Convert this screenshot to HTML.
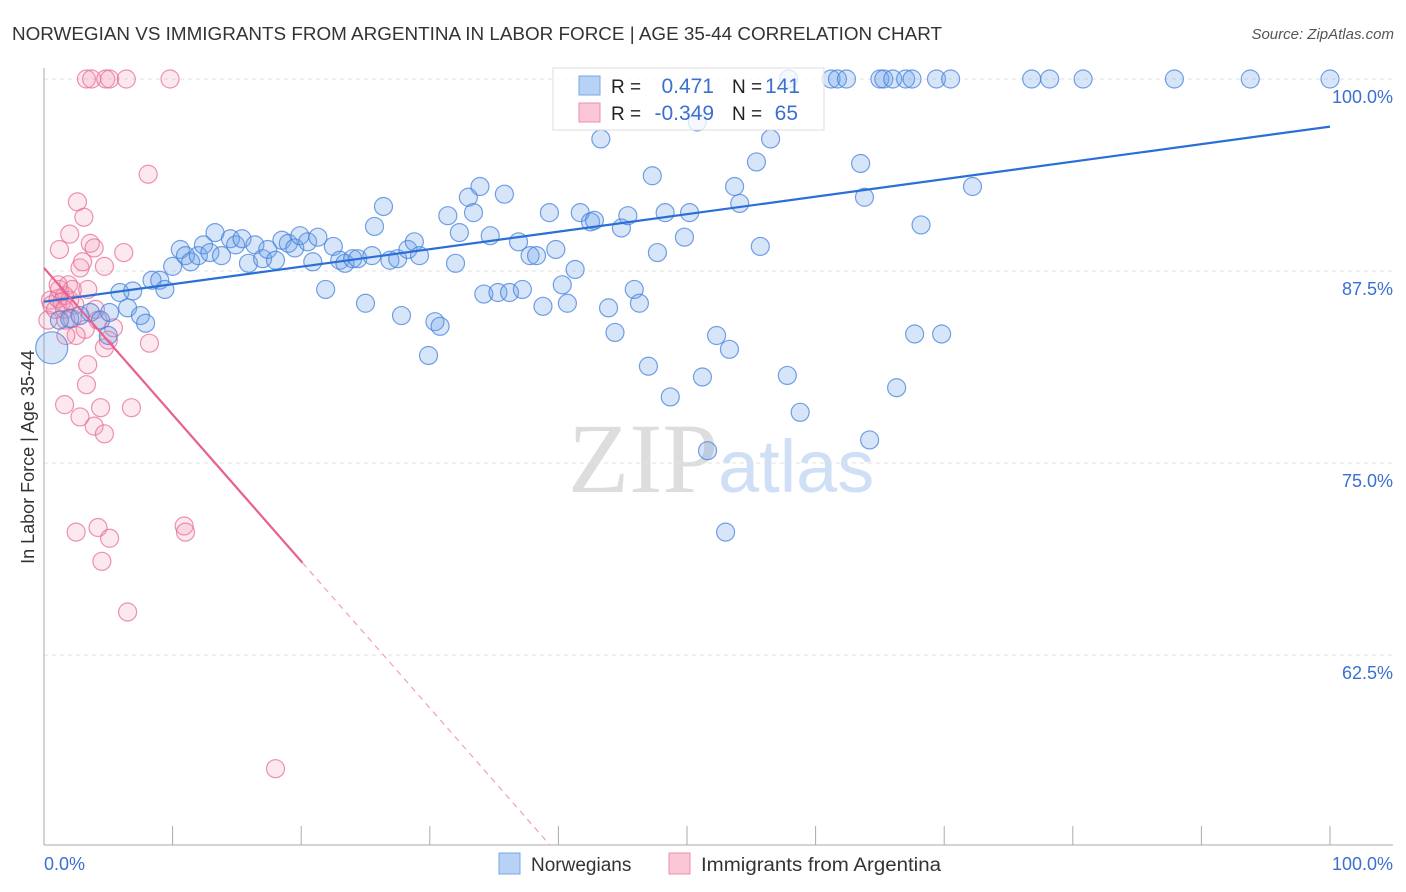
<!DOCTYPE html>
<html><head><meta charset="utf-8"><style>
body{margin:0;background:#fff;font-family:"Liberation Sans",sans-serif;}
svg{display:block}
</style></head><body>
<svg id="chart" width="1406" height="892" xmlns="http://www.w3.org/2000/svg">
<text x="12" y="40" font-size="18" fill="#333" textLength="930" lengthAdjust="spacingAndGlyphs">NORWEGIAN VS IMMIGRANTS FROM ARGENTINA IN LABOR FORCE | AGE 35-44 CORRELATION CHART</text>
<text x="1394" y="39" font-size="15" fill="#555" font-style="italic" text-anchor="end">Source: ZipAtlas.com</text>
<text x="718" y="492" font-size="100" fill="#ddd" text-anchor="end" font-family="Liberation Serif,serif">ZIP</text>
<text x="718" y="492" font-size="74" fill="#cfdff5">atlas</text>
<g id="grid"></g>
<g id="axes"></g>
<g id="pink"></g>
<g id="blue"></g>
<g id="trends"></g>
<text transform="translate(34,457) rotate(-90)" font-size="18" fill="#333" text-anchor="middle">In Labor Force | Age 35-44</text>
<g>
<rect x="553" y="68" width="271" height="62" fill="rgba(255,255,255,0.75)" stroke="#ddd"/>
<rect x="579" y="76" width="21" height="19" fill="#b8d2f5" stroke="#7aa6e6"/>
<rect x="579" y="103" width="21" height="19" fill="#fbc6d5" stroke="#ec8fab"/>
<text x="611" y="93" font-size="19" fill="#222">R =</text>
<text x="714" y="93" font-size="21" fill="#3b6fd0" text-anchor="end">0.471</text>
<text x="732" y="93" font-size="19" fill="#222">N =</text>
<text x="800" y="93" font-size="21" fill="#3b6fd0" text-anchor="end">141</text>
<text x="611" y="120" font-size="19" fill="#222">R =</text>
<text x="714" y="120" font-size="21" fill="#3b6fd0" text-anchor="end">-0.349</text>
<text x="732" y="120" font-size="19" fill="#222">N =</text>
<text x="798" y="120" font-size="21" fill="#3b6fd0" text-anchor="end">65</text>
</g>
<g>
<rect x="499" y="853" width="21" height="21" fill="#b8d2f5" stroke="#7aa6e6"/>
<text x="531" y="871" font-size="19" fill="#333">Norwegians</text>
<rect x="669" y="853" width="21" height="21" fill="#fbc6d5" stroke="#ec8fab"/>
<text x="701" y="871" font-size="19" fill="#333" textLength="240" lengthAdjust="spacingAndGlyphs">Immigrants from Argentina</text>
</g>
</svg>
<script>
const yTicks=[100,87.5,75,62.5];
const yTickLabels=["100.0%","87.5%","75.0%","62.5%"];
const xLabels=["0.0%","100.0%"];
const blueX=[0.6,1.2,2.0,2.8,3.6,4.4,5.1,5.0,5.9,6.5,6.9,7.5,7.9,8.4,9.0,9.4,10.0,10.6,11.0,11.4,12.0,12.4,12.9,13.3,13.8,14.5,14.9,15.4,15.9,16.4,17.0,17.4,18.0,18.5,19.0,19.5,19.9,20.5,20.9,21.3,21.9,22.5,23.0,23.4,24.0,24.4,25.0,25.5,25.7,26.4,26.9,27.5,27.8,28.3,28.8,29.2,29.9,30.4,30.8,31.4,32.0,32.3,33.0,33.4,33.9,34.2,34.7,35.3,35.8,36.2,36.9,37.2,37.8,38.3,38.8,39.3,39.8,40.3,40.7,41.3,41.7,42.5,42.8,43.3,43.9,44.4,44.9,45.4,45.9,46.3,47.0,47.3,47.7,48.3,48.7,49.8,50.2,50.8,51.2,51.6,52.3,53.0,53.3,53.7,54.1,55.4,55.7,56.5,57.8,58.8,63.5,63.8,64.2,66.3,67.7,68.2,69.8,72.2,57.9,61.2,61.7,62.4,65.0,65.3,66.0,67.0,67.5,69.4,70.5,76.8,78.2,80.8,87.9,93.8,100];
const blueY=[82.5,84.3,84.4,84.6,84.8,84.3,84.8,83.3,86.1,85.1,86.2,84.6,84.1,86.9,86.9,86.3,87.8,88.9,88.5,88.1,88.5,89.2,88.7,90.0,88.5,89.6,89.2,89.6,88.0,89.2,88.3,88.9,88.2,89.5,89.3,89.0,89.8,89.4,88.1,89.7,86.3,89.1,88.2,88.0,88.3,88.3,85.4,88.5,90.4,91.7,88.2,88.3,84.6,88.9,89.4,88.5,82.0,84.2,83.9,91.1,88.0,90.0,92.3,91.3,93.0,86.0,89.8,86.1,92.5,86.1,89.4,86.3,88.5,88.5,85.2,91.3,88.9,86.6,85.4,87.6,91.3,90.7,90.8,96.1,85.1,83.5,90.3,91.1,86.3,85.4,81.3,93.7,88.7,91.3,79.3,89.7,91.3,97.2,80.6,75.8,83.3,70.5,82.4,93.0,91.9,94.6,89.1,96.1,80.7,78.3,94.5,92.3,76.5,79.9,83.4,90.5,83.4,93.0,100,100,100,100,100,100,100,100,100,100,100,100,100,100,100,100,100];
const pinkX=[0.3,0.5,0.6,0.9,1.1,1.2,1.4,1.6,1.9,2.0,2.2,2.4,1.1,1.6,1.7,2.2,1.2,2.0,2.6,3.1,3.6,3.9,2.8,3.0,4.7,3.4,4.0,3.2,2.5,1.7,6.2,4.2,4.7,5.0,5.4,8.2,3.4,3.3,1.6,2.8,3.9,4.4,4.7,6.8,2.5,4.2,5.1,4.5,6.5,10.9,11.0,8.1,18.0,3.3,3.7,4.8,5.1,6.4,9.8];
const pinkY=[84.3,85.6,85.3,85.0,85.7,86.3,85.5,85.9,86.6,85.6,86.3,85.3,86.6,85.0,84.3,84.4,88.9,89.9,92.0,91.0,89.3,89.0,87.7,88.1,87.8,86.3,85.0,83.7,83.3,83.3,88.7,84.3,82.5,83.0,83.8,82.8,81.4,80.1,78.8,78.0,77.4,78.6,76.9,78.6,70.5,70.8,70.1,68.6,65.3,70.9,70.5,93.8,55.1,100,100,100,100,100,100];
const blueTrend=[85.5,96.9];
const pinkTrend=[87.7,-0.955];
const NS="http://www.w3.org/2000/svg";
const X0=44,X1=1330,Y100=79,PXPER=15.36,YBOT=845;
const sx=v=>X0+(X1-X0)*v/100;
const sy=v=>Y100+(100-v)*PXPER;
function mk(t,a,p){const e=document.createElementNS(NS,t);for(const k in a)e.setAttribute(k,a[k]);p.appendChild(e);return e;}
const grid=document.getElementById('grid'),axes=document.getElementById('axes');
yTicks.forEach((t,i)=>{
 const l=mk('line',{x1:X0,x2:1393,y1:sy(t),y2:sy(t),stroke:'#e2e2e2','stroke-dasharray':'4,4'},grid);
 
 
 const tx=mk('text',{x:1393,y:sy(t)+24,'font-size':18,fill:'#3b6fd0','text-anchor':'end'},axes);
 tx.textContent=yTickLabels[i];
 
 
});
let a=mk('line',{x1:X0,x2:X0,y1:68,y2:YBOT,stroke:'#aaa'},axes);


a=mk('line',{x1:X0,x2:1393,y1:YBOT,y2:YBOT,stroke:'#aaa'},axes);


for(let i=1;i<=10;i++){
 const tk=mk('line',{x1:sx(i*10),x2:sx(i*10),y1:826,y2:YBOT,stroke:'#aaa'},axes);
 
 
}
[[0,'start',X0],[1,'end',1393]].forEach(([i,anc,x])=>{
 const tx=mk('text',{x:x,y:870,'font-size':18,fill:'#3b6fd0','text-anchor':anc},axes);
 tx.textContent=xLabels[i];
 
 
});
const pg=document.getElementById('pink');
pinkX.forEach((x,i)=>{
 const c=mk('circle',{cx:sx(x),cy:sy(pinkY[i]),r:9,fill:'rgba(243,150,180,0.22)',stroke:'rgba(232,110,150,0.75)','stroke-width':1.2},pg);
 
 
});
const bg=document.getElementById('blue');
blueX.forEach((x,i)=>{
 const c=mk('circle',{cx:sx(x),cy:sy(blueY[i]),r:i===0?16:9,fill:'rgba(110,160,235,0.28)',stroke:'rgba(70,130,220,0.75)','stroke-width':1.2},bg);
 
 
});
const tg=document.getElementById('trends');
let l=mk('line',{x1:sx(0),y1:sy(blueTrend[0]),x2:sx(100),y2:sy(blueTrend[1]),stroke:'#2a6fd6','stroke-width':2.2},tg);


const pxEnd=20.1, pxBot=(pinkTrend[0]-50.1)/(-pinkTrend[1]);
l=mk('line',{x1:sx(0),y1:sy(pinkTrend[0]),x2:sx(pxEnd),y2:sy(pinkTrend[0]+pinkTrend[1]*pxEnd),stroke:'#e8608e','stroke-width':2.2},tg);


l=mk('line',{x1:sx(pxEnd),y1:sy(pinkTrend[0]+pinkTrend[1]*pxEnd),x2:sx(pxBot),y2:sy(pinkTrend[0]+pinkTrend[1]*pxBot),stroke:'#f0a0b8','stroke-width':1.2,'stroke-dasharray':'6,5'},tg);


</script>
</body></html>
